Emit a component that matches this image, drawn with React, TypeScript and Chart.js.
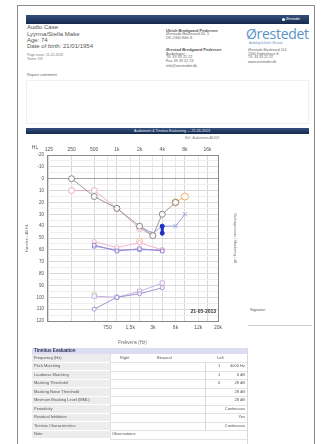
import React, { useEffect, useRef } from "react";
import { Chart, registerables } from "chart.js";

Chart.register(...registerables);

// ---------- axis data ----------
const topTicks = [125, 250, 500, 1000, 2000, 4000, 8000, 16000];
const topLabels = ["125", "250", "500", "1k", "2k", "4k", "8k", "16k"];
const bottomTicks = [750, 1500, 3000, 6000, 12000, 22000];
const bottomLabels = ["750", "1,5k", "3k", "6k", "12k", "20k"];
const freqMin = 118;
const freqMax = 22000;
const dbMin = -20;
const dbMax = 120;

// ---------- series ----------
const grayFreq = [250, 500, 1000, 2000, 3000, 4000, 6000];
const grayDb = [0, 15, 25, 40, 48, 30, 20];
const pinkFreq = [250, 500, 1000, 2000, 3000];
const pinkDb = [10, 10, 25, 42, 48];
const orangeFreq = [6000, 8000];
const orangeDb = [20, 15];
const blueFreq = [2000, 3000, 4000, 6000, 8000];
const blueDb = [40, 46, 40, 40, 30];
const darkBlueFreq = [4000, 4000];
const darkBlueDb = [40, 46];
const midPurpleFreq = [500, 1000, 2000, 4000];
const midPurpleDb = [56, 61, 59, 61];
const midPinkFreq = [500, 1000, 2000, 4000];
const midPinkDb = [53, 58, 54, 60];
const midBlueFreq = [500, 1000, 2000, 4000];
const midBlueDb = [57, 60, 60, 60];
const peachFreq = [2000];
const peachDb = [53];
const uclPurpleFreq = [500, 1000, 2000, 4000];
const uclPurpleDb = [110, 100, 97, 92];
const uclLavFreq = [500, 1000, 2000, 4000];
const uclLavDb = [99, 100, 95, 88];
const greenFreq = [500];
const greenDb = [97];

const pts = (f: number[], d: number[]) => f.map((x, i) => ({ x, y: d[i] }));

function ds(label: string, f: number[], d: number[], color: string, extra: any = {}) {
  return {
    label,
    data: pts(f, d),
    borderColor: color,
    borderWidth: 1,
    pointBorderColor: color,
    pointBackgroundColor: "rgba(255,255,255,0.85)",
    pointRadius: 3,
    pointBorderWidth: 1,
    tension: 0,
    ...extra,
  };
}

const FONT = 'Arial, "Liberation Sans", sans-serif';

function AudioChart() {
  const ref = useRef<HTMLCanvasElement | null>(null);
  useEffect(() => {
    if (!ref.current) return;
    const extraText = {
      id: "extraText",
      afterDraw(chart: any) {
        const { ctx, chartArea } = chart;
        ctx.save();
        ctx.font = `bold 5px ${FONT}`;
        ctx.fillStyle = "#333";
        ctx.textAlign = "right";
        ctx.textBaseline = "middle";
        ctx.fillText("21-05-2013", chartArea.right - 2, chartArea.bottom - 9);
        ctx.font = `5px ${FONT}`;
        ctx.fillStyle = "#555";
        ctx.textAlign = "center";
        ctx.fillText("HL", chartArea.left - 12, chartArea.top - 7);
        ctx.restore();
      },
    };
    const chart = new Chart(ref.current, {
      type: "line",
      data: {
        datasets: [
          ds("darkblue", darkBlueFreq, darkBlueDb, "#1f2fc0", {
            borderWidth: 3,
            pointRadius: 2,
            pointBackgroundColor: "#1f2fc0",
          }),
          ds("gray", grayFreq, grayDb, "#9a9a9a", { pointBorderColor: "#8a8a8a" }),
          ds("pink", pinkFreq, pinkDb, "#eab0b8"),
          ds("orange", orangeFreq, orangeDb, "#f2ad6a", { pointRadius: 3.5 }),
          ds("blue", blueFreq, blueDb, "#9aa8e2", { pointStyle: "crossRot" }),
          ds("midPurple", midPurpleFreq, midPurpleDb, "#a186cf", { pointStyle: "rect", pointRadius: 2.5 }),
          ds("midPink", midPinkFreq, midPinkDb, "#f2b2d2", { pointRadius: 2 }),
          ds("midBlue", midBlueFreq, midBlueDb, "#92aaf0", { pointStyle: "rect", pointRadius: 2.5 }),
          ds("peach", peachFreq, peachDb, "#f4c396", { pointRadius: 3 }),
          ds("uclPurple", uclPurpleFreq, uclPurpleDb, "#a493d6", { pointRadius: 2 }),
          ds("uclLav", uclLavFreq, uclLavDb, "#c8b3e2", { pointStyle: "rect", pointRadius: 3 }),
          ds("green", greenFreq, greenDb, "#cddb98", { pointRadius: 2 }),
        ],
      },
      options: {
        responsive: false,
        maintainAspectRatio: false,
        animation: false,
        devicePixelRatio: 1,
        layout: { padding: 0 },
        plugins: { legend: { display: false }, tooltip: { enabled: false } },
        scales: {
          x: {
            type: "logarithmic",
            position: "top",
            min: freqMin,
            max: freqMax,
            afterBuildTicks: (s: any) => {
              s.ticks = topTicks.map((v) => ({ value: v }));
            },
            afterFit: (s: any) => {
              s.height = 15;
            },
            ticks: {
              autoSkip: false,
              maxRotation: 0,
              padding: 2,
              color: "#555",
              font: { size: 5, family: FONT },
              callback: (v: any) => topLabels[topTicks.indexOf(Number(v))] ?? "",
            },
            grid: { color: "#d9d9d9", drawTicks: false },
            border: { color: "#8a8a8a" },
          },
          xb: {
            type: "logarithmic",
            position: "bottom",
            min: freqMin,
            max: freqMax,
            afterBuildTicks: (s: any) => {
              s.ticks = bottomTicks.map((v) => ({ value: v }));
            },
            afterFit: (s: any) => {
              s.height = 24;
            },
            ticks: {
              autoSkip: false,
              maxRotation: 0,
              padding: 4,
              color: "#555",
              font: { size: 5, family: FONT },
              callback: (v: any) => bottomLabels[bottomTicks.indexOf(Number(v))] ?? "",
            },
            grid: { color: "#e8e8e8", drawTicks: false },
            border: { color: "#8a8a8a" },
            title: {
              display: true,
              text: "Frekvens (Hz)",
              color: "#666",
              font: { size: 4.5, family: FONT },
              padding: { top: 0, bottom: 0 },
            },
          },
          y: {
            type: "linear",
            reverse: true,
            min: dbMin,
            max: dbMax,
            afterFit: (s: any) => {
              s.width = 27;
            },
            ticks: {
              stepSize: 5,
              autoSkip: false,
              padding: 3,
              color: "#555",
              font: { size: 4.5, family: FONT },
              callback: (v: any) => (Number(v) % 10 === 0 ? String(v) : ""),
            },
            grid: {
              drawTicks: false,
              color: (c: any) =>
                c.tick && c.tick.value === 0
                  ? "#a0a0a0"
                  : c.tick && c.tick.value % 10 === 0
                  ? "#d9d9d9"
                  : "#eeeeee",
            },
            border: { color: "#8a8a8a" },
            title: {
              display: true,
              text: "Hørelse i dB HL",
              color: "#666",
              font: { size: 4, family: FONT },
              padding: { top: 4, bottom: 0 },
            },
          },
          y2: {
            type: "linear",
            position: "right",
            reverse: true,
            min: dbMin,
            max: dbMax,
            afterFit: (s: any) => {
              s.width = 27;
            },
            ticks: { display: false },
            grid: { drawOnChartArea: false, drawTicks: false },
            border: { color: "#8a8a8a" },
            title: {
              display: true,
              text: "Ubehagsniveau / Maskering i dB",
              color: "#777",
              font: { size: 3.5, family: FONT },
              padding: { top: 8, bottom: 0 },
            },
          },
        },
      } as any,
      plugins: [extraText],
    });
    return () => chart.destroy();
  }, []);
  return (
    <canvas
      ref={ref}
      width={225}
      height={205}
      style={{ position: "absolute", left: 20, top: 140, width: 225, height: 205, display: "block" }}
    />
  );
}

function T(props: {
  x: number;
  y: number;
  size: number;
  bold?: boolean;
  color?: string;
  align?: "left" | "right" | "center";
  w?: number;
  children: React.ReactNode;
}) {
  const { x, y, size, bold, color, align, w, children } = props;
  const style: React.CSSProperties = {
    position: "absolute",
    top: y - size * 0.6,
    fontSize: size,
    lineHeight: `${size * 1.2}px`,
    fontWeight: bold ? 700 : 400,
    color: color || "#555",
    whiteSpace: "nowrap",
    fontFamily: FONT,
  };
  if (align === "right") {
    style.right = 325 - x;
    style.textAlign = "right";
  } else if (align === "center") {
    style.left = x - (w || 100) / 2;
    style.width = w || 100;
    style.textAlign = "center";
  } else {
    style.left = x;
  }
  return <div style={style}>{children}</div>;
}

const tableRows = [
  ["Pitch Matching", "1", "4000 Hz"],
  ["Loudness Matching", "1", "6 dB"],
  ["Masking Threshold", "6", "28 dB"],
  ["Masking Noise Threshold", "", "28 dB"],
  ["Minimum Masking Level (MML)", "", "28 dB"],
  ["Periodicity", "", "Continuous"],
  ["Residual Inhibition", "", "Yes"],
  ["Tinnitus Characteristics", "", "Continuous"],
];

export default function App() {
  const barBg = "linear-gradient(#34507e, #142a4c)";
  const rowH = 8.5;
  const tTop = 354;
  return (
    <div
      style={{
        position: "fixed",
        left: 0,
        top: 0,
        width: 325,
        height: 444,
        background: "#fff",
        overflow: "hidden",
        fontFamily: FONT,
      }}
    >
      {/* page border */}
      <div
        style={{
          position: "absolute",
          left: 17,
          top: 5,
          width: 298,
          height: 470,
          border: "1px solid #8a8a8a",
          boxSizing: "border-box",
        }}
      />
      {/* header bar */}
      <div style={{ position: "absolute", left: 26, top: 15, width: 283, height: 9, background: barBg }} />
      <div
        style={{
          position: "absolute",
          left: 282,
          top: 18,
          width: 3,
          height: 3,
          borderRadius: 2,
          background: "#fff",
        }}
      />
      <T x={286} y={19.5} size={3.2} color="#fff">
        Ørestedet
      </T>

      {/* left patient block */}
      <T x={27} y={28} size={6} color="#555">Audio Case</T>
      <T x={27} y={34.5} size={6} color="#555">Lyyrma/Stella Make</T>
      <T x={27} y={40.5} size={6} color="#555">Age: 74</T>
      <T x={27} y={46.5} size={6} color="#555">Date of birth: 21/01/1954</T>
      <T x={27} y={55.5} size={3.4} color="#777">Page issue: 21-05-2013</T>
      <T x={27} y={59.5} size={3.4} color="#777">Tester: DK</T>
      <T x={27} y={75} size={4} color="#666">Report comment:</T>

      {/* middle address block */}
      <T x={166} y={31} size={4} bold color="#555">Ulrich Bredgaard Pedersen</T>
      <T x={166} y={34.7} size={3.8} color="#666">Ørestads Boulevard 34, 5</T>
      <T x={166} y={38.3} size={3.8} color="#666">DK-2300 Kbh S</T>
      <T x={166} y={50} size={4} bold color="#555">Ørestad Bredgaard Pedersen</T>
      <T x={166} y={54} size={3.8} color="#666">Audiologist</T>
      <T x={166} y={57.5} size={3.8} color="#666">Tlf. 33 33 22 22</T>
      <T x={166} y={61.5} size={3.8} color="#666">Fax 33 33 22 23</T>
      <T x={166} y={66} size={3.8} color="#666">info@orestedet.dk</T>

      {/* logo */}
      <div
        style={{
          position: "absolute",
          left: 246,
          top: 26,
          fontSize: 14,
          lineHeight: "16px",
          color: "#5a93c8",
          fontFamily: '"Open Sans", sans-serif',
          fontWeight: 400,
          letterSpacing: -0.3,
        }}
      >
        Ørestedet
      </div>
      <T x={249} y={43.5} size={2.8} color="#6a8fb8">Audiologisk klinik i Ørestad</T>
      <T x={248} y={50} size={3.6} color="#666">Ørestads Boulevard 114</T>
      <T x={248} y={54} size={3.6} color="#666">2300 København S</T>
      <T x={248} y={57.5} size={3.6} color="#666">Tlf. 33 33 22 22</T>
      <T x={248} y={62} size={3.6} color="#666">www.orestedet.dk</T>

      {/* comment box */}
      <div
        style={{
          position: "absolute",
          left: 26,
          top: 80,
          width: 283,
          height: 44,
          border: "1px solid #f0f0f0",
          boxSizing: "border-box",
        }}
      />

      {/* second bar */}
      <div style={{ position: "absolute", left: 26, top: 128, width: 283, height: 6, background: barBg }} />
      <T x={172} y={131} size={3.6} color="#e8eef8" align="center" w={120}>
        Audiometri &amp; Tinnitus Evaluering — 21-05-2013
      </T>
      <T x={185} y={139} size={3.2} color="#777">Ref.: Audiometer AD629</T>

      <AudioChart />

      {/* signature */}
      <T x={250} y={310} size={4} color="#555">Signatur:</T>
      <div style={{ position: "absolute", left: 248, top: 325, width: 64, height: 1, background: "#cfcfcf" }} />

      {/* table */}
      <div
        style={{
          position: "absolute",
          left: 32,
          top: 347.5,
          width: 215,
          height: 6.5,
          background: "#dcdcf2",
        }}
      />
      <T x={34} y={351} size={4.5} bold color="#2a2f55">Tinnitus Evaluation</T>
      {[0, 1, 2, 3, 4, 5, 6, 7, 8, 9].map((i) => (
        <React.Fragment key={i}>
          <div
            style={{
              position: "absolute",
              left: 32,
              top: tTop + i * rowH,
              width: 78,
              height: rowH,
              background: "#ececec",
              borderBottom: "1px solid #fff",
              boxSizing: "border-box",
            }}
          />
          <div
            style={{
              position: "absolute",
              left: 110,
              top: tTop + (i + 1) * rowH - 0.5,
              width: 137,
              height: 1,
              background: "#e2e2e2",
            }}
          />
        </React.Fragment>
      ))}
      <div style={{ position: "absolute", left: 205, top: tTop + rowH, width: 1, height: rowH * 8, background: "#d8d8d8" }} />
      <div style={{ position: "absolute", left: 247, top: 347.5, width: 1, height: 96, background: "#d8d8d8" }} />
      <div style={{ position: "absolute", left: 110, top: tTop, width: 1, height: rowH * 10, background: "#e2e2e2" }} />
      <T x={34} y={tTop + rowH / 2} size={4} color="#555">Frequency (Hz)</T>
      <T x={120} y={tTop + rowH / 2} size={4} color="#555">Right</T>
      <T x={157} y={tTop + rowH / 2} size={4} color="#555">Binaural</T>
      <T x={217} y={tTop + rowH / 2} size={4} color="#555">Left</T>
      {tableRows.map((r, i) => (
        <React.Fragment key={r[0]}>
          <T x={34} y={tTop + (i + 1) * rowH + rowH / 2} size={4} color="#555">{r[0]}</T>
          {r[1] ? (
            <T x={218} y={tTop + (i + 1) * rowH + rowH / 2} size={4} color="#555">{r[1]}</T>
          ) : null}
          <T x={245} y={tTop + (i + 1) * rowH + rowH / 2} size={4} color="#555" align="right">{r[2]}</T>
        </React.Fragment>
      ))}
      <T x={34} y={tTop + 9 * rowH + rowH / 2} size={4} color="#555">Note</T>
      <T x={112} y={tTop + 9 * rowH + rowH / 2} size={4} color="#555">Observations</T>
    </div>
  );
}
